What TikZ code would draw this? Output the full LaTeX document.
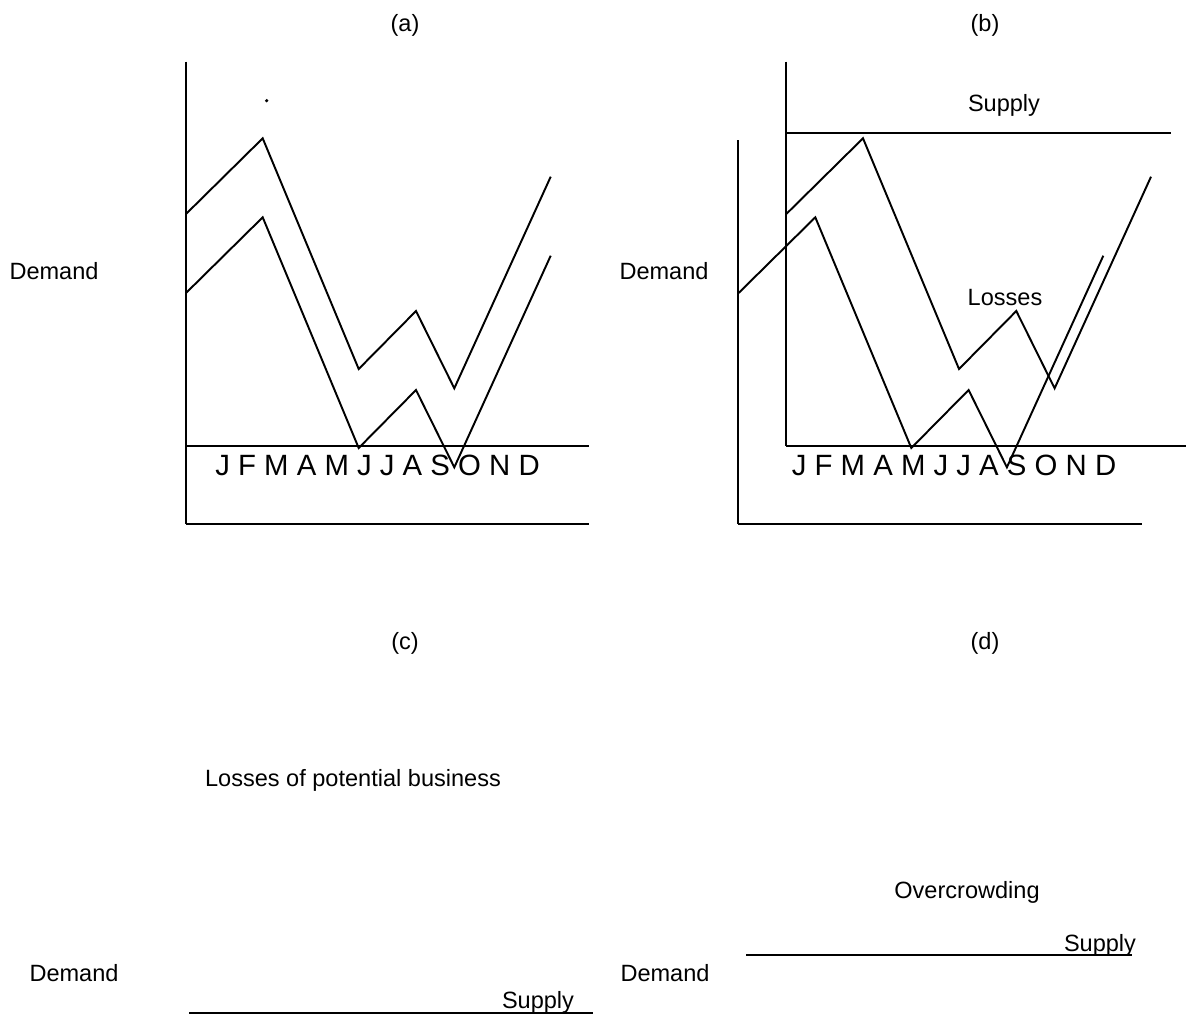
\documentclass[tikz,border=0pt]{standalone}
\usepackage{fontspec}
\setmainfont{Liberation Sans}

\newcommand\Demandline[3]{
  \draw[curve] (#1,#2) coordinate (#3a)
    -- (#1+77,#2-76) coordinate (#3b)
    -- (#1+173,#2+154.7) coordinate (#3c)
    -- (#1+230.3,#2+96.7) coordinate (#3d)
    -- (#1+268.6,#2+174) coordinate (#3e)
    -- (#1+365,#2-37.6) coordinate (#3f);
}
\newcommand\Axes[4]{
  \draw[curve] (#1,#2) coordinate (#4top) -- (#1,#3) coordinate (#4org);
}
\tikzstyle{curve}=[draw,line width=1.1pt,line join=miter]
\tikzstyle{lbl}=[inner sep=0pt,font=\fontsize{13.4}{16}\selectfont]
\tikzstyle{months}=[inner sep=0pt,font=\fontsize{16.7}{20}\selectfont]

\begin{document}
\begin{tikzpicture}[x=0.02cm,y=-0.02cm]
  \useasboundingbox (0,0) rectangle (1186,1015);

  % (a)
  \node[lbl] (tita) at (405,25) {(a)};
  \node[lbl] (dema) at (54,271) {Demand};
  \Axes{185.7}{61.7}{445.7}{ina}
  \draw[curve] (inaorg) -- (589,445.7) coordinate (inaend);
  \Axes{185.7}{140}{524}{outa}
  \draw[curve] (outaorg) -- (589,524) coordinate (outaend);
  \Demandline{185.7}{214.3}{higha}
  \Demandline{185.7}{293.3}{lowa}
  \node[circle,fill=black,inner sep=0pt,minimum size=2pt] (dota) at (266.7,100.7) {};
  \node[months] (mona) at (377.5,465) {J F M A M J J A S O N D};

  % (b)
  \node[lbl] (titb) at (985,25) {(b)};
  \node[lbl] (demb) at (664,271) {Demand};
  \Axes{786}{61.7}{445.7}{inb}
  \draw[curve] (inborg) -- (1186,445.7) coordinate (inbend);
  \Axes{738.3}{140}{524}{outb}
  \draw[curve] (outborg) -- (1141.7,524) coordinate (outbend);
  \draw[curve] (786,133.3) coordinate (supb) -- (1170.7,133.3) coordinate (supbend);
  \node[lbl] (supplyb) at (1004,105) {Supply};
  \Demandline{786}{214.3}{highb}
  \Demandline{738.3}{293.3}{lowb}
  \node[lbl] (lossb) at (1005,298) {Losses};
  \node[months] (monb) at (954,465) {J F M A M J J A S O N D};

  % (c)
  \node[lbl] (titc) at (405,643) {(c)};
  \node[lbl] (lossc) at (353,780) {Losses of potential business};
  \node[lbl] (demc) at (74,973) {Demand};
  \coordinate (supc) at (189,1013);
  \coordinate (supcend) at (593,1013);
  \draw[curve] (supc) -- (supcend);
  \node[lbl] (supplyc) at (538,1002) {Supply};

  % (d)
  \node[lbl] (titd) at (985,643) {(d)};
  \node[lbl] (crowd) at (967,892) {Overcrowding};
  \node[lbl] (demd) at (665,973) {Demand};
  \coordinate (supd) at (746,955);
  \coordinate (supdend) at (1132,955);
  \draw[curve] (supd) -- (supdend);
  \node[lbl] (supplyd) at (1100,945) {Supply};
\end{tikzpicture}
\end{document}
